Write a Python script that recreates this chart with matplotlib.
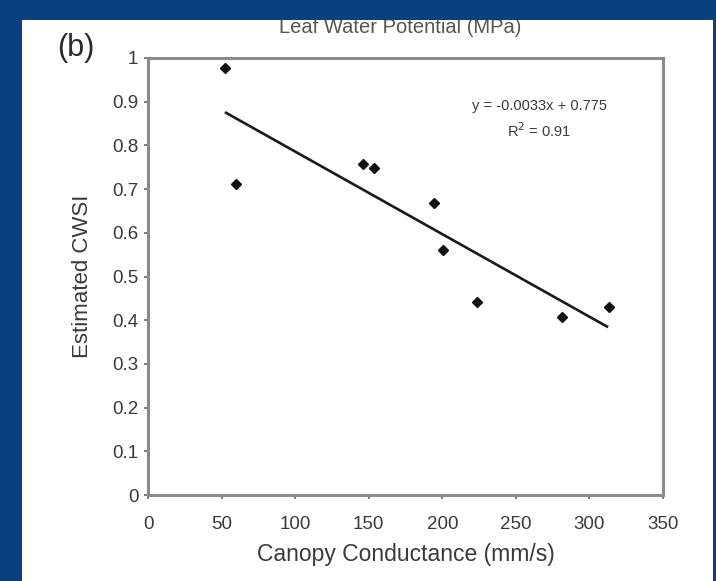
import numpy as np
import matplotlib
matplotlib.use("Agg")
import matplotlib.pyplot as plt
from matplotlib.patches import Rectangle

plt.rcParams["font.family"] = ["Liberation Sans", "DejaVu Sans"]

# canopy conductance (mm/s) vs estimated CWSI
conductance = [52.3, 59.8, 146.2, 153.6, 194.4, 200.5, 223.7, 281.4, 313.4]
cwsi        = [0.977, 0.712, 0.757, 0.748, 0.668, 0.561, 0.442, 0.407, 0.430]

# drawn regression line (end points)
fit_x = [52.3, 312.7]
fit_y = [0.876, 0.384]

x_ticks = [0, 50, 100, 150, 200, 250, 300, 350]
y_ticks = [0, 0.1, 0.2, 0.3, 0.4, 0.5, 0.6, 0.7, 0.8, 0.9, 1]
y_labels = ["0", "0.1", "0.2", "0.3", "0.4", "0.5", "0.6", "0.7", "0.8", "0.9", "1"]

BLUE  = "#0b3f80"
SPINE = "#8a8a8a"
TEXT  = "#3a3a3a"

W, H = 716, 581
fig = plt.figure(figsize=(W / 100, H / 100), dpi=100, facecolor=BLUE)

# white panel
fig.patches.append(Rectangle((22 / W, 0), (713 - 22) / W, 1 - 20 / H,
                             transform=fig.transFigure, facecolor="white",
                             edgecolor="none", zorder=-2))

ax = fig.add_axes([148 / W, 1 - 495 / H, (663 - 148) / W, (495 - 58) / H])
ax.set_zorder(2)
ax.set_facecolor("white")

ax.plot(fit_x, fit_y, color="#1a1a1a", lw=1.9, solid_capstyle="butt", zorder=2)
ax.plot(conductance, cwsi, "D", color="#111111", markersize=5.5, zorder=3)

ax.set_xlim(0, 350)
ax.set_ylim(0, 1)
ax.set_xticks(x_ticks)
ax.set_yticks(y_ticks)
ax.set_yticklabels(y_labels)

for s in ax.spines.values():
    s.set_color(SPINE)
    s.set_linewidth(2.2)

ax.tick_params(axis="both", direction="out", length=3, width=1.2, color="#666666",
               labelsize=13.5, labelcolor=TEXT)
ax.tick_params(axis="x", pad=12)
ax.tick_params(axis="y", pad=4)

ax.set_xlabel("Canopy Conductance (mm/s)", fontsize=16.5, color=TEXT, labelpad=7)
ax.set_ylabel("Estimated CWSI", fontsize=16, color=TEXT, labelpad=14)

ax.text(0.76, 0.89, "y = -0.0033x + 0.775", transform=ax.transAxes,
        ha="center", va="center", fontsize=10.5, color=TEXT)
ax.text(0.76, 0.833, "R$^2$ = 0.91", transform=ax.transAxes,
        ha="center", va="center", fontsize=10.5, color=TEXT)

fig.text(76 / W, 1 - 48 / H, "(b)", ha="center", va="center",
         fontsize=22, color="#2a2a2a", zorder=3)

# panel title, partly hidden by the blue frame
fig.text(400 / W, 1 - 33 / H, "Leaf Water Potential (MPa)", ha="center",
         va="baseline", fontsize=14.5, color="#555555", zorder=3)
fig.patches.append(Rectangle((0, 1 - 20 / H), 1, 20 / H, transform=fig.transFigure,
                             facecolor=BLUE, edgecolor="none", zorder=5))

fig.savefig("out.png", dpi=100, facecolor=BLUE)
